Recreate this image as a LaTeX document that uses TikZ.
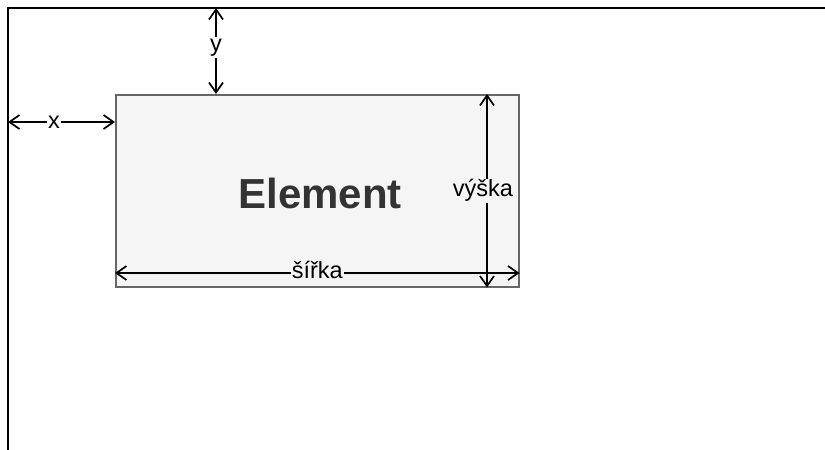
\documentclass[tikz,border=0pt]{standalone}
\usepackage{fontspec}
\setmainfont{Liberation Sans}
\definecolor{elemfill}{RGB}{245,245,245}
\definecolor{elemline}{RGB}{102,102,102}
\definecolor{elemtext}{RGB}{51,51,51}
\usetikzlibrary{arrows.meta, positioning, calc}

\begin{document}
\begin{tikzpicture}[
      x=1pt, y=-1pt,
      elembox/.style = {
        rectangle, draw=elemline, fill=elemfill, line width=1.5pt,
        minimum width=403pt, minimum height=192pt, inner sep=0pt,
        font=\fontsize{42}{46}\selectfont\bfseries, text=elemtext
      },
      frame/.style = {line width=2pt, color=black},
      dim/.style   = {{Straight Barb[length=10pt,width=14pt]}-{Straight Barb[length=10pt,width=14pt]},
                      line width=1.7pt, color=black},
      lbl/.style   = {font=\fontsize{23.5}{26}\selectfont, fill=white, inner sep=1.5pt}
    ]
      \useasboundingbox (0,0) rectangle (825,450);

      % ===================== Frame =====================
      \coordinate (org) at (8,8);
      \draw[frame] (825,8) -- (org) -- (8,450);

      % ===================== Element =====================
      \node[elembox, anchor=north west] (elem) at (115,94) {};
      \node[font=\fontsize{42}{46}\selectfont\bfseries, text=elemtext,
            xshift=3pt, yshift=-3pt] (elemtxt) at (elem.center) {Element};

      % ===================== Offsets =====================
      \coordinate (xa) at (8,122);
      \draw[dim] (xa) -- node[lbl, pos=0.43] {x} (elem.west |- xa);
      \coordinate (ya) at (216,8);
      \draw[dim] (ya) -- node[lbl, pos=0.46] {y} (ya |- elem.north);

      % ===================== Size =====================
      \coordinate (wa) at (115,273);
      \draw[dim] (wa) -- node[lbl, fill=elemfill, yshift=3pt, inner sep=1pt] {šířka} (elem.east |- wa);
      \coordinate (ha) at (487,94);
      \draw[dim] (ha) -- node[lbl, fill=elemfill, xshift=-4pt, inner sep=1pt] {výška} (ha |- elem.south);

    \end{tikzpicture}
\end{document}
